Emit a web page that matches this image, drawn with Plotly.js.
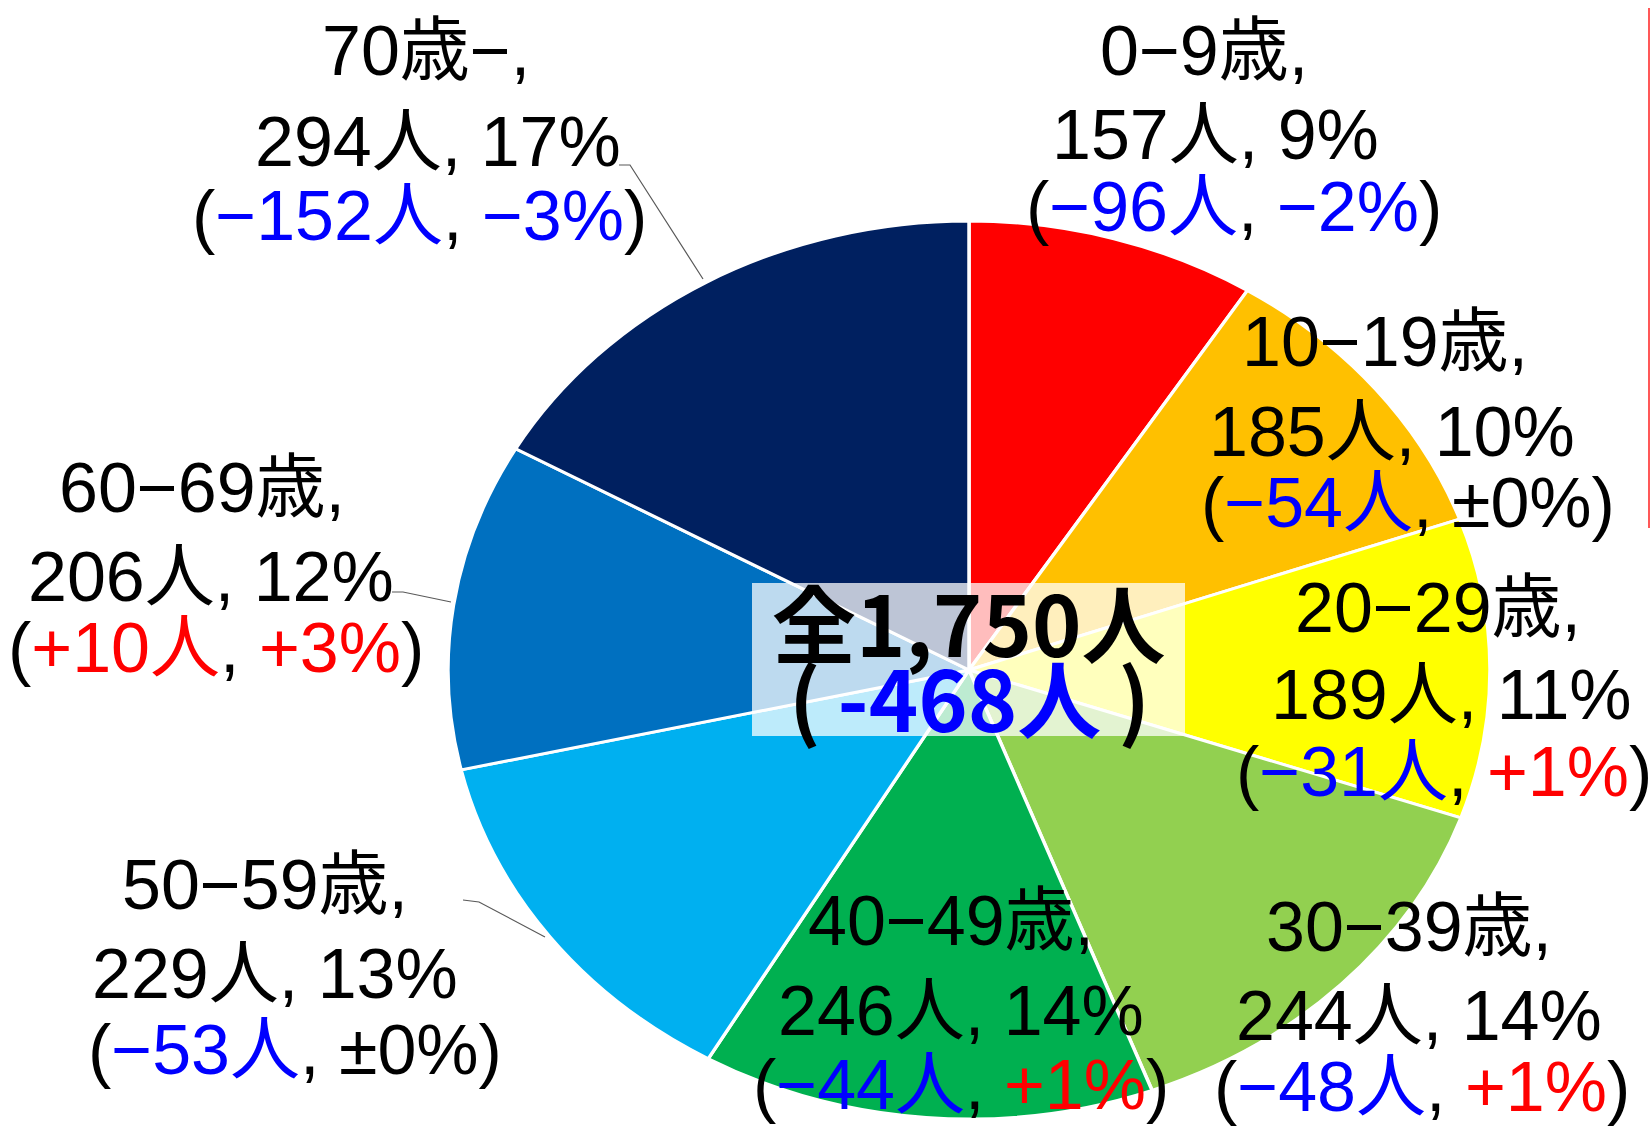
<!DOCTYPE html>
<html>
<head>
<meta charset="utf-8">
<script src="https://cdn.plot.ly/plotly-3.0.1.min.js"></script>
<style>
  html, body { margin: 0; padding: 0; background: #ffffff; }
  #chart { width: 1651px; height: 1128px; }
</style>
</head>
<body>
<div id="chart"></div>
<script>
// ---------- data ----------
const ageGroups   = ['0−9歳', '10−19歳', '20−29歳', '30−39歳', '40−49歳', '50−59歳', '60−69歳', '70歳−'];
const counts      = [157, 185, 189, 244, 246, 229, 206, 294];
const shares      = ['9%', '10%', '11%', '14%', '14%', '13%', '12%', '17%'];
const diffCounts  = ['−96人', '−54人', '−31人', '−48人', '−44人', '−53人', '+10人', '−152人'];
const diffShares  = ['−2%', '±0%', '+1%', '+1%', '+1%', '±0%', '+3%', '−3%'];
const totalText   = '全1,750人';
const totalDiff   = '-468人';

// ---------- style ----------
const sliceColors = ['#FF0000', '#FFC000', '#FFFF00', '#92D050', '#00B050', '#00B0F0', '#0070C0', '#002060'];
const W = 1651, H = 1128;
const px = v => v / W;
const py = v => 1 - v / H;

// label line positions in pixels: [x of each line], [y of each line]
const labelPos = [
  {x: [1204, 1215, 1234], y: [51, 135, 207]},
  {x: [1385, 1392, 1408], y: [342, 432, 503]},
  {x: [1438, 1451, 1444], y: [608, 695, 772]},
  {x: [1409, 1419, 1422], y: [927, 1016, 1087]},
  {x: [951, 961, 961],    y: [921, 1011, 1085]},
  {x: [265, 275, 295],    y: [885, 974, 1050]},
  {x: [202, 211, 216],    y: [488, 577, 648]},
  {x: [426, 438, 419],    y: [51, 142, 216]}
];

const labelFont = '"Liberation Sans", Arimo, "Noto Sans CJK JP", sans-serif';
const centerFont = '"Noto Sans CJK JP", "Noto Sans", sans-serif';

function colored(s) {
  let c = '#000000';
  if (s.startsWith('−') || s.startsWith('-')) c = '#0000FF';
  else if (s.startsWith('+')) c = '#FF0000';
  return '<span style="color:' + c + '">' + s + '</span>';
}

const annotations = [];
ageGroups.forEach((g, i) => {
  const lines = [
    g + ',',
    counts[i] + '人, ' + shares[i],
    '(' + colored(diffCounts[i]) + ', ' + colored(diffShares[i]) + ')'
  ];
  lines.forEach((t, k) => {
    annotations.push({
      xref: 'paper', yref: 'paper',
      x: px(labelPos[i].x[k]), y: py(labelPos[i].y[k]),
      xanchor: 'center', yanchor: 'middle',
      text: t, showarrow: false,
      font: {family: labelFont, size: 70, color: '#000000'}
    });
  });
});

annotations.push({
  xref: 'paper', yref: 'paper', x: px(969), y: py(620),
  xanchor: 'center', yanchor: 'middle', showarrow: false,
  text: totalText,
  font: {family: centerFont, size: 84, color: '#000000', weight: 'bold'}
});
annotations.push({
  xref: 'paper', yref: 'paper', x: px(969), y: py(695),
  xanchor: 'center', yanchor: 'middle', showarrow: false,
  text: '(\u2009' + '<span style="color:#0000FF">' + totalDiff + '</span>' + '\u2009)',
  font: {family: centerFont, size: 84, color: '#000000', weight: 'bold'}
});

function path(pts) {
  return 'M ' + pts.map(p => px(p[0]) + ',' + py(p[1])).join(' L ');
}

const shapes = [
  {type: 'path', xref: 'paper', yref: 'paper', layer: 'above',
   path: path([[619, 165], [630, 165], [703, 279]]), line: {color: '#595959', width: 1.2}},
  {type: 'path', xref: 'paper', yref: 'paper', layer: 'above',
   path: path([[392, 592], [403, 592], [451, 602]]), line: {color: '#595959', width: 1.2}},
  {type: 'path', xref: 'paper', yref: 'paper', layer: 'above',
   path: path([[463, 900], [479, 902], [545, 937]]), line: {color: '#595959', width: 1.2}},
  {type: 'rect', xref: 'paper', yref: 'paper', layer: 'above',
   x0: px(752), x1: px(1185), y0: py(736), y1: py(583),
   fillcolor: 'rgba(255,255,255,0.74)', line: {width: 0}},
  {type: 'line', xref: 'paper', yref: 'paper', layer: 'above',
   x0: px(1649), x1: px(1649), y0: py(8), y1: py(528),
   line: {color: '#FF2020', width: 1.5}}
];

const data = [{
  type: 'pie',
  labels: ageGroups,
  values: counts,
  sort: false,
  direction: 'clockwise',
  rotation: 0,
  textinfo: 'none',
  textposition: 'none',
  hoverinfo: 'skip',
  showlegend: false,
  marker: {colors: sliceColors, line: {color: '#FFFFFF', width: 3}},
  domain: {x: [px(969 - 449), px(969 + 449)], y: [1 - (670 + 449) / H, 1 - (670 - 449) / H]}
}];

const layout = {
  width: W, height: H,
  margin: {l: 0, r: 0, t: 0, b: 0},
  paper_bgcolor: '#FFFFFF',
  showlegend: false,
  annotations: annotations,
  shapes: shapes
};

const gd = document.getElementById('chart');
Plotly.newPlot(gd, data, layout, {displayModeBar: false, staticPlot: true}).then(() => {
  // stretch the pie horizontally into the ellipse shape of the reference
  let cx = 969;
  try { cx = gd.calcdata[0][0].cx || cx; } catch (e) {}
  const sx = 521 / 449;
  gd.querySelectorAll('.pielayer .trace').forEach(g => {
    g.setAttribute('transform', 'translate(' + cx + ',0) scale(' + sx + ',1) translate(' + (-cx) + ',0)');
  });
});
</script>
</body>
</html>
